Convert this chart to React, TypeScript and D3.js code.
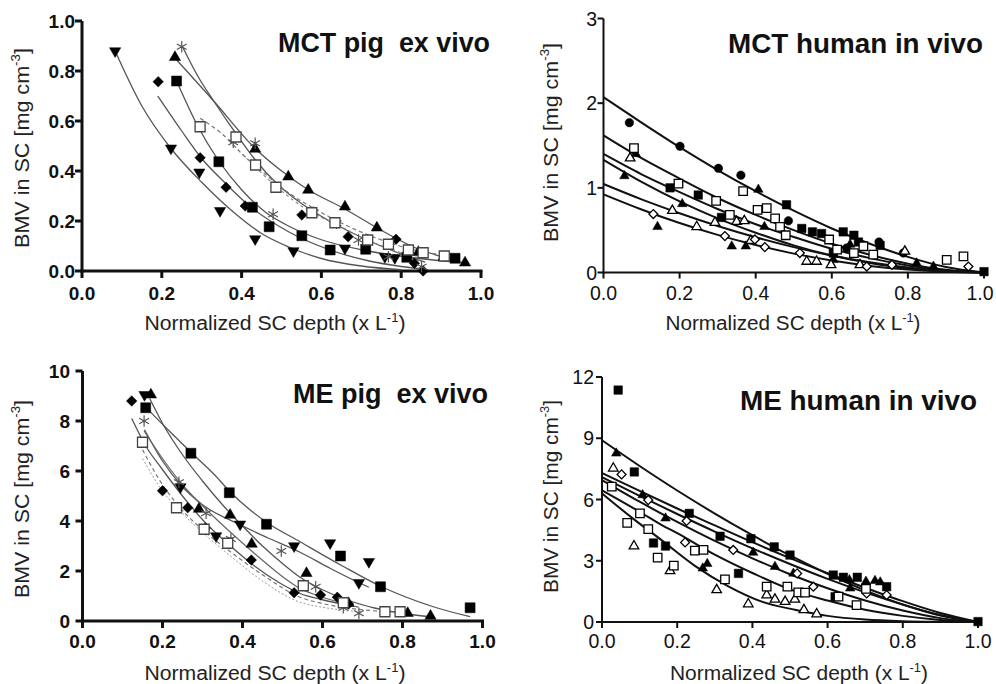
import React from 'react';
import * as d3 from 'd3';

type Pt = [number, number];

// ---------- Panel A: MCT pig ex vivo (x: normalized depth, y: BMV mg/cm3) ----------
const A_down: Pt[] = [[0.083,0.88],[0.223,0.491],[0.294,0.395],[0.346,0.241],[0.434,0.128],[0.53,0.08],[0.659,0.091],[0.759,0.057],[0.784,0.053]];
const A_diamond: Pt[] = [[0.191,0.757],[0.296,0.453],[0.361,0.335],[0.409,0.26],[0.551,0.224],[0.667,0.137],[0.787,0.127],[0.833,0.031],[0.855,0.0]];
const A_square: Pt[] = [[0.237,0.76],[0.343,0.437],[0.427,0.255],[0.469,0.177],[0.551,0.141],[0.622,0.084],[0.711,0.087],[0.814,0.055],[0.935,0.051]];
const A_up: Pt[] = [[0.233,0.855],[0.434,0.488],[0.517,0.377],[0.567,0.324],[0.659,0.257],[0.739,0.173],[0.843,0.075],[0.906,0.055],[0.96,0.033]];
const A_star: Pt[] = [[0.25,0.897],[0.379,0.515],[0.434,0.511],[0.479,0.227],[0.58,0.235],[0.638,0.191],[0.693,0.124],[0.768,0.057],[0.851,0.017]];
const A_open: Pt[] = [[0.296,0.577],[0.386,0.536],[0.435,0.424],[0.486,0.335],[0.576,0.233],[0.634,0.193],[0.716,0.124],[0.768,0.107],[0.818,0.084],[0.855,0.073],[0.908,0.06]];

const A_fitDown: Pt[] = [[0.083,0.88],[0.15,0.66],[0.223,0.49],[0.30,0.355],[0.38,0.235],[0.45,0.15],[0.52,0.095],[0.60,0.05],[0.70,0.02],[0.80,0.005]];
const A_fitDiamond: Pt[] = [[0.19,0.70],[0.25,0.56],[0.30,0.45],[0.36,0.35],[0.42,0.26],[0.52,0.155],[0.62,0.085],[0.72,0.04],[0.80,0.018],[0.86,0.006]];
const A_fitSquare: Pt[] = [[0.237,0.76],[0.29,0.58],[0.343,0.44],[0.40,0.325],[0.46,0.235],[0.52,0.178],[0.60,0.125],[0.70,0.085],[0.82,0.055],[0.94,0.035]];
const A_fitUp: Pt[] = [[0.231,0.855],[0.33,0.68],[0.434,0.49],[0.517,0.38],[0.567,0.325],[0.659,0.248],[0.74,0.172],[0.843,0.088],[0.906,0.055],[0.96,0.03]];
const A_fitStar: Pt[] = [[0.252,0.897],[0.29,0.78],[0.33,0.68],[0.388,0.545],[0.434,0.445],[0.488,0.35],[0.55,0.27],[0.62,0.2],[0.70,0.135],[0.78,0.08],[0.86,0.035]];
const A_fitOpen: Pt[] = [[0.296,0.611],[0.35,0.55],[0.40,0.47],[0.45,0.40],[0.52,0.31],[0.576,0.255],[0.634,0.205],[0.716,0.145],[0.768,0.115],[0.818,0.09],[0.855,0.078],[0.91,0.06]];
const A_fitStar2: Pt[] = [[0.37,0.52],[0.438,0.41],[0.50,0.32],[0.58,0.23],[0.64,0.185],[0.70,0.135],[0.77,0.09],[0.85,0.05]];

// ---------- Panel B: MCT human in vivo ----------
const B_circle: Pt[] = [[0.068,1.77],[0.201,1.49],[0.302,1.23],[0.361,1.15],[0.486,0.61],[0.639,0.29],[0.724,0.36],[0.788,0.23]];
const B_openSq: Pt[] = [[0.08,1.47],[0.197,1.05],[0.296,0.845],[0.332,0.68],[0.367,0.96],[0.405,0.74],[0.429,0.76],[0.451,0.64],[0.464,0.54],[0.479,0.44],[0.593,0.39],[0.614,0.27],[0.658,0.23],[0.683,0.31],[0.709,0.21],[0.902,0.15],[0.946,0.19]];
const B_square: Pt[] = [[0.175,1.0],[0.249,0.915],[0.31,0.65],[0.481,0.80],[0.521,0.52],[0.549,0.48],[0.573,0.46],[0.604,0.23],[0.630,0.48],[0.658,0.44],[0.67,0.36],[0.727,0.32],[1.0,0.01]];
const B_up: Pt[] = [[0.055,1.14],[0.085,1.40],[0.142,0.54],[0.207,0.81],[0.337,0.31],[0.374,0.31],[0.407,0.98],[0.423,0.54],[0.604,0.15],[0.648,0.33],[0.823,0.11],[0.867,0.07]];
const B_openUp: Pt[] = [[0.07,1.35],[0.181,0.73],[0.245,0.54],[0.293,0.59],[0.35,0.6],[0.37,0.61],[0.387,0.376],[0.534,0.13],[0.56,0.13],[0.598,0.09],[0.674,0.09],[0.792,0.25]];
const B_openDiamond: Pt[] = [[0.131,0.69],[0.319,0.43],[0.398,0.39],[0.424,0.30],[0.516,0.23],[0.692,0.07],[0.758,0.09],[0.959,0.07]];

const B_fit1: Pt[] = [[0,2.07],[0.1,1.77],[0.2,1.48],[0.3,1.21],[0.4,0.96],[0.5,0.73],[0.6,0.52],[0.7,0.34],[0.8,0.185],[0.9,0.065],[1,0]];
const B_fit2: Pt[] = [[0,1.62],[0.1,1.35],[0.2,1.11],[0.3,0.88],[0.4,0.68],[0.5,0.50],[0.6,0.34],[0.7,0.21],[0.8,0.105],[0.9,0.032],[1,0]];
const B_fit3: Pt[] = [[0,1.40],[0.1,1.16],[0.2,0.95],[0.3,0.75],[0.4,0.57],[0.5,0.42],[0.6,0.28],[0.7,0.17],[0.8,0.084],[0.9,0.025],[1,0]];
const B_fit4: Pt[] = [[0,1.33],[0.1,1.07],[0.2,0.84],[0.3,0.64],[0.4,0.47],[0.5,0.32],[0.6,0.20],[0.7,0.113],[0.8,0.049],[0.9,0.012],[1,0]];
const B_fit5: Pt[] = [[0,1.045],[0.1,0.864],[0.2,0.70],[0.3,0.55],[0.4,0.417],[0.5,0.30],[0.6,0.20],[0.7,0.12],[0.8,0.058],[0.9,0.017],[1,0]];
const B_fit6: Pt[] = [[0,0.923],[0.1,0.744],[0.2,0.584],[0.3,0.444],[0.4,0.324],[0.5,0.223],[0.6,0.141],[0.7,0.078],[0.8,0.034],[0.9,0.008],[1,0]];

// ---------- Panel C: ME pig ex vivo ----------
const C_diamond: Pt[] = [[0.123,8.8],[0.2,5.21],[0.263,4.53],[0.307,3.72],[0.422,2.44],[0.529,1.13],[0.595,1.04],[0.637,0.95],[0.665,0.68]];
const C_up: Pt[] = [[0.171,9.05],[0.291,4.48],[0.369,4.24],[0.423,3.08],[0.560,1.91],[0.665,0.71],[0.813,0.31],[0.870,0.2]];
const C_down: Pt[] = [[0.155,9.05],[0.245,5.36],[0.334,3.4],[0.394,3.87],[0.529,3.0],[0.619,3.12],[0.691,1.53],[0.716,2.37]];
const C_square: Pt[] = [[0.158,8.53],[0.271,6.71],[0.367,5.13],[0.46,3.87],[0.645,2.6],[0.745,1.37],[0.969,0.53]];
const C_star: Pt[] = [[0.154,8.0],[0.241,5.55],[0.309,4.31],[0.371,3.28],[0.497,2.8],[0.583,1.37],[0.652,0.53],[0.691,0.31]];
const C_open: Pt[] = [[0.150,7.15],[0.235,4.53],[0.304,3.67],[0.363,3.11],[0.552,1.41],[0.652,0.73],[0.756,0.37],[0.794,0.37]];

const C_fitSquare: Pt[] = [[0.158,8.55],[0.22,7.55],[0.271,6.75],[0.33,5.85],[0.37,5.15],[0.46,3.95],[0.544,3.17],[0.65,2.2],[0.744,1.4],[0.877,0.57],[0.969,0.17]];
const C_fitUp: Pt[] = [[0.168,8.9],[0.202,7.85],[0.25,6.65],[0.30,5.6],[0.35,4.65],[0.40,3.8],[0.45,3.0],[0.50,2.3],[0.544,1.75],[0.60,1.25],[0.66,0.85],[0.73,0.52],[0.81,0.28],[0.87,0.17]];
const C_fitDown: Pt[] = [[0.155,7.65],[0.20,6.4],[0.248,5.4],[0.30,4.65],[0.394,3.85],[0.46,3.35],[0.544,2.75],[0.62,2.1],[0.694,1.51],[0.716,1.35]];
const C_fitDiamond: Pt[] = [[0.123,8.1],[0.16,6.95],[0.198,6.1],[0.25,5.0],[0.306,3.95],[0.37,3.0],[0.43,2.2],[0.49,1.55],[0.544,1.1],[0.60,0.85],[0.665,0.62]];
const C_fitStar: Pt[] = [[0.154,7.6],[0.20,6.5],[0.25,5.45],[0.31,4.45],[0.37,3.55],[0.43,2.7],[0.49,1.9],[0.544,1.3],[0.60,0.95],[0.65,0.72],[0.69,0.55]];
const C_fitOpen: Pt[] = [[0.150,6.85],[0.20,5.45],[0.235,4.7],[0.30,3.65],[0.363,2.85],[0.45,1.85],[0.544,0.95],[0.60,0.7],[0.65,0.55],[0.72,0.42],[0.794,0.33]];
const C_fitDotted: Pt[] = [[0.15,6.5],[0.20,5.2],[0.25,4.3],[0.31,3.4],[0.37,2.6],[0.45,1.6],[0.544,0.75],[0.60,0.55],[0.66,0.42],[0.70,0.36]];

// ---------- Panel D: ME human in vivo ----------
const D_square: Pt[] = [[0.043,11.36],[0.086,7.35],[0.137,3.87],[0.169,3.72],[0.232,5.32],[0.314,4.2],[0.363,2.38],[0.396,4.08],[0.458,3.68],[0.5,3.28],[0.615,2.30],[0.62,1.24],[0.642,2.19],[0.679,2.19],[0.757,1.73],[1.0,0.02]];
const D_up: Pt[] = [[0.038,8.26],[0.108,6.22],[0.169,5.08],[0.268,2.63],[0.28,2.85],[0.402,3.4],[0.46,2.71],[0.509,2.38],[0.658,2.06],[0.66,1.65],[0.702,1.98],[0.726,2.02],[0.74,1.95]];
const D_openUp: Pt[] = [[0.03,7.53],[0.085,3.72],[0.181,2.5],[0.305,1.57],[0.389,0.88],[0.438,1.32],[0.46,1.11],[0.487,1.0],[0.513,1.11],[0.537,0.59],[0.571,0.39]];
const D_openDiamond: Pt[] = [[0.052,7.23],[0.123,5.97],[0.221,3.9],[0.225,4.95],[0.349,3.53],[0.519,2.38],[0.562,1.73],[0.704,1.40],[0.757,1.32]];
const D_openSq: Pt[] = [[0.026,6.63],[0.067,4.86],[0.101,5.32],[0.123,4.55],[0.148,3.15],[0.191,2.76],[0.247,3.5],[0.27,3.53],[0.327,2.09],[0.438,1.73],[0.493,1.73],[0.522,1.45],[0.54,1.44],[0.629,1.24],[0.677,0.83],[0.702,1.62]];

const D_fit1: Pt[] = [[0,8.9],[0.1,7.64],[0.2,6.44],[0.3,5.31],[0.4,4.25],[0.5,3.26],[0.6,2.36],[0.7,1.55],[0.8,0.86],[0.9,0.32],[1,0]];
const D_fit2: Pt[] = [[0,7.3],[0.1,6.42],[0.2,5.56],[0.3,4.73],[0.4,3.91],[0.5,3.13],[0.6,2.39],[0.7,1.68],[0.8,1.02],[0.9,0.44],[1,0]];
const D_fit3: Pt[] = [[0,7.1],[0.1,6.18],[0.2,5.29],[0.3,4.43],[0.4,3.61],[0.5,2.84],[0.6,2.11],[0.7,1.45],[0.8,0.85],[0.9,0.34],[1,0]];
const D_fit4: Pt[] = [[0,6.95],[0.1,5.89],[0.2,4.90],[0.3,3.97],[0.4,3.12],[0.5,2.34],[0.6,1.65],[0.7,1.05],[0.8,0.56],[0.9,0.19],[1,0]];
const D_fit5: Pt[] = [[0,6.45],[0.1,5.4],[0.159,4.75],[0.2,4.35],[0.3,3.3],[0.4,2.4],[0.5,1.6],[0.6,1.05],[0.7,0.6],[0.8,0.3],[0.9,0.1],[1,0]];
const D_fit6: Pt[] = [[0,6.3],[0.08,5.1],[0.159,4.0],[0.247,2.75],[0.336,1.75],[0.425,1.0],[0.513,0.6],[0.6,0.3],[0.7,0.12],[0.8,0.04],[0.9,0.01],[1,0]];

// tick values
const X_TICKS = [0, 0.2, 0.4, 0.6, 0.8, 1.0];
const A_YTICKS = [0, 0.2, 0.4, 0.6, 0.8, 1.0];
const B_YTICKS = [0, 1, 2, 3];
const C_YTICKS = [0, 2, 4, 6, 8, 10];
const D_YTICKS = [0, 3, 6, 9, 12];

const FONT = "'Liberation Sans', Arial, Helvetica, sans-serif";

type Kind = 'square' | 'squareOpen' | 'circle' | 'up' | 'upOpen' | 'down' | 'diamond' | 'diamondOpen' | 'star';
interface Series { kind: Kind; pts: Pt[]; color?: string }
interface Curve { pts: Pt[]; dash?: string; color: string; width: number }

interface Cfg {
  x0: number; x1: number; y0: number; y1: number; yMax: number; yTicks: number[];
  yFmt: (v: number) => string; bold: boolean; axisW: number; tickLen: number;
  tickFont: number; yLabRight: number; xLabBase: number; lastXLabShift: number;
  title: string; titleX: number; titleY: number; titleLen: number; titleSize: number;
  xlabX: number; xlabY: number; xlabLen: number;
  ylabX: number; ylabY: number; ylabLen: number;
  msize: number;
}

function symbolPath(kind: Kind, s: number): { d: string; rot: number } {
  switch (kind) {
    case 'square':
    case 'squareOpen':
      return { d: d3.symbol().type(d3.symbolSquare).size(s * s)() as string, rot: 0 };
    case 'circle':
      return { d: d3.symbol().type(d3.symbolCircle).size(Math.PI * (s / 2) * (s / 2))() as string, rot: 0 };
    case 'up':
    case 'upOpen':
      return { d: d3.symbol().type(d3.symbolTriangle).size(0.55 * s * s)() as string, rot: 0 };
    case 'down':
      return { d: d3.symbol().type(d3.symbolTriangle).size(0.55 * s * s)() as string, rot: 180 };
    case 'diamond':
    case 'diamondOpen':
      return { d: d3.symbol().type(d3.symbolSquare).size(0.55 * s * s)() as string, rot: 45 };
    case 'star':
      return { d: d3.symbol().type(d3.symbolAsterisk).size(0.9 * s * s)() as string, rot: 0 };
  }
}

function Panel({ cfg, series, curves }: { cfg: Cfg; series: Series[]; curves: Curve[] }) {
  const x = d3.scaleLinear().domain([0, 1]).range([cfg.x0, cfg.x1]);
  const y = d3.scaleLinear().domain([0, cfg.yMax]).range([cfg.y0, cfg.y1]);
  const line = d3.line<Pt>().x(d => x(d[0])).y(d => y(d[1])).curve(d3.curveMonotoneX);
  const fw = cfg.bold ? 'bold' : 'normal';
  return (
    <g fontFamily={FONT}>
      {/* axes */}
      <line x1={cfg.x0} x2={cfg.x0} y1={cfg.y0 + cfg.axisW / 2} y2={cfg.y1} stroke="#111" strokeWidth={cfg.axisW} />
      <line x1={cfg.x0 - cfg.axisW / 2} x2={cfg.x1 + cfg.axisW / 2} y1={cfg.y0} y2={cfg.y0} stroke="#111" strokeWidth={cfg.axisW} />
      {X_TICKS.map((t, i) => (
        <g key={'xt' + t}>
          <line x1={x(t)} x2={x(t)} y1={cfg.y0} y2={cfg.y0 + cfg.tickLen} stroke="#111" strokeWidth={cfg.axisW} />
          <text x={x(t) - (i === X_TICKS.length - 1 ? cfg.lastXLabShift : 0)} y={cfg.xLabBase} textAnchor="middle"
            fontSize={cfg.tickFont} fontWeight={fw} fill="#111">{t.toFixed(1)}</text>
        </g>
      ))}
      {cfg.yTicks.map(t => (
        <g key={'yt' + t}>
          <line x1={cfg.x0 - cfg.tickLen} x2={cfg.x0} y1={y(t)} y2={y(t)} stroke="#111" strokeWidth={cfg.axisW} />
          <text x={cfg.yLabRight} y={y(t)} dy="0.36em" textAnchor="end" fontSize={cfg.tickFont} fontWeight={fw} fill="#111">{cfg.yFmt(t)}</text>
        </g>
      ))}
      {/* title */}
      <text x={cfg.titleX} y={cfg.titleY} fontSize={cfg.titleSize} fontWeight="bold" fill="#111"
        textLength={cfg.titleLen} lengthAdjust="spacingAndGlyphs" style={{ whiteSpace: 'pre' }}>{cfg.title}</text>
      {/* x label */}
      <text x={cfg.xlabX} y={cfg.xlabY} textAnchor="middle" fontSize={19.5} fill="#222"
        textLength={cfg.xlabLen} lengthAdjust="spacingAndGlyphs">
        Normalized SC depth (x L<tspan dy={-8} fontSize={12}>-1</tspan><tspan dy={8}>)</tspan>
      </text>
      {/* y label */}
      <text transform={`translate(${cfg.ylabX},${cfg.ylabY}) rotate(-90)`} textAnchor="middle" fontSize={21} fill="#222"
        textLength={cfg.ylabLen} lengthAdjust="spacingAndGlyphs">
        BMV in SC [mg cm<tspan dy={-9} fontSize={13}>-3</tspan><tspan dy={9}>]</tspan>
      </text>
      {/* fit curves */}
      {curves.map((c, i) => (
        <path key={'c' + i} d={line(c.pts) as string} fill="none" stroke={c.color} strokeWidth={c.width} strokeDasharray={c.dash} />
      ))}
      {/* points */}
      {series.map((s, si) => {
        const sp = symbolPath(s.kind, cfg.msize);
        const open = s.kind === 'squareOpen' || s.kind === 'upOpen' || s.kind === 'diamondOpen';
        const col = s.color || '#000';
        return s.pts.map((p, pi) => (
          <path key={'p' + si + '_' + pi} d={sp.d}
            transform={`translate(${x(p[0])},${y(p[1])}) rotate(${sp.rot})`}
            fill={s.kind === 'star' ? 'none' : open ? '#fff' : col}
            stroke={col} strokeWidth={s.kind === 'star' ? 1.2 : open ? 1.3 : 0.5} />
        ));
      })}
    </g>
  );
}

const cfgA: Cfg = {
  x0: 82, x1: 481, y0: 271, y1: 21, yMax: 1, yTicks: A_YTICKS, yFmt: v => v.toFixed(1),
  bold: true, axisW: 3, tickLen: 7, tickFont: 19, yLabRight: 75, xLabBase: 300, lastXLabShift: 0,
  title: 'MCT pig  ex vivo', titleX: 278, titleY: 52, titleLen: 212, titleSize: 27,
  xlabX: 275, xlabY: 330, xlabLen: 261, ylabX: 29, ylabY: 148, ylabLen: 200, msize: 10,
};
const cfgB: Cfg = {
  x0: 603.5, x1: 984, y0: 272.5, y1: 18.5, yMax: 3, yTicks: B_YTICKS, yFmt: v => String(v),
  bold: false, axisW: 2, tickLen: 6, tickFont: 19.5, yLabRight: 597, xLabBase: 300, lastXLabShift: 4,
  title: 'MCT human in vivo', titleX: 728, titleY: 53, titleLen: 255, titleSize: 27,
  xlabX: 793, xlabY: 330, xlabLen: 255, ylabX: 558, ylabY: 142.5, ylabLen: 199, msize: 8.5,
};
const cfgC: Cfg = {
  x0: 82.5, x1: 482.5, y0: 621, y1: 371, yMax: 10, yTicks: C_YTICKS, yFmt: v => String(v),
  bold: true, axisW: 3, tickLen: 7, tickFont: 19, yLabRight: 70, xLabBase: 648, lastXLabShift: 0,
  title: 'ME pig  ex vivo', titleX: 293, titleY: 403, titleLen: 195, titleSize: 27,
  xlabX: 275, xlabY: 680, xlabLen: 261, ylabX: 29, ylabY: 499, ylabLen: 198, msize: 10,
};
const cfgD: Cfg = {
  x0: 602, x1: 978, y0: 622, y1: 377, yMax: 12, yTicks: D_YTICKS, yFmt: v => String(v),
  bold: false, axisW: 2, tickLen: 6, tickFont: 19.5, yLabRight: 594, xLabBase: 648, lastXLabShift: 0,
  title: 'ME human in vivo', titleX: 740, titleY: 410, titleLen: 237, titleSize: 27,
  xlabX: 799, xlabY: 680, xlabLen: 258, ylabX: 558, ylabY: 496.5, ylabLen: 193, msize: 8.5,
};

const G = '#555';
const seriesA: Series[] = [
  { kind: 'down', pts: A_down }, { kind: 'diamond', pts: A_diamond }, { kind: 'square', pts: A_square },
  { kind: 'up', pts: A_up }, { kind: 'star', pts: A_star, color: '#555' }, { kind: 'squareOpen', pts: A_open, color: '#444' },
];
const curvesA: Curve[] = [
  { pts: A_fitDown, color: G, width: 1.3 }, { pts: A_fitDiamond, color: G, width: 1.3 },
  { pts: A_fitSquare, color: G, width: 1.3 }, { pts: A_fitUp, color: G, width: 1.3 },
  { pts: A_fitStar, color: G, width: 1.3 }, { pts: A_fitOpen, color: '#777', width: 1.2, dash: '4 3' },
  { pts: A_fitStar2, color: '#888', width: 1.1, dash: '3 3' },
];
const seriesB: Series[] = [
  { kind: 'circle', pts: B_circle }, { kind: 'square', pts: B_square }, { kind: 'up', pts: B_up },
  { kind: 'squareOpen', pts: B_openSq }, { kind: 'upOpen', pts: B_openUp }, { kind: 'diamondOpen', pts: B_openDiamond },
];
const curvesB: Curve[] = [B_fit1, B_fit2, B_fit3, B_fit4, B_fit5, B_fit6].map(p => ({ pts: p, color: '#111', width: 2 }));
const seriesC: Series[] = [
  { kind: 'diamond', pts: C_diamond }, { kind: 'up', pts: C_up }, { kind: 'down', pts: C_down },
  { kind: 'square', pts: C_square }, { kind: 'star', pts: C_star, color: '#555' }, { kind: 'squareOpen', pts: C_open, color: '#444' },
];
const curvesC: Curve[] = [
  { pts: C_fitSquare, color: G, width: 1.3 }, { pts: C_fitUp, color: G, width: 1.3 },
  { pts: C_fitDown, color: G, width: 1.3 }, { pts: C_fitDiamond, color: G, width: 1.3 },
  { pts: C_fitStar, color: '#666', width: 1.2 }, { pts: C_fitOpen, color: '#777', width: 1.2, dash: '4 3' },
  { pts: C_fitDotted, color: '#999', width: 1.0, dash: '2 2' },
];
const seriesD: Series[] = [
  { kind: 'square', pts: D_square }, { kind: 'up', pts: D_up }, { kind: 'upOpen', pts: D_openUp },
  { kind: 'diamondOpen', pts: D_openDiamond }, { kind: 'squareOpen', pts: D_openSq },
];
const curvesD: Curve[] = [D_fit1, D_fit2, D_fit3, D_fit4, D_fit5, D_fit6].map(p => ({ pts: p, color: '#111', width: 2 }));

export default function App() {
  return (
    <svg width={996} height={684} viewBox="0 0 996 684"
      style={{ position: 'absolute', left: 0, top: 0, background: '#fff' }}>
      <rect width={996} height={684} fill="#fff" />
      <Panel cfg={cfgA} series={seriesA} curves={curvesA} />
      <Panel cfg={cfgB} series={seriesB} curves={curvesB} />
      <Panel cfg={cfgC} series={seriesC} curves={curvesC} />
      <Panel cfg={cfgD} series={seriesD} curves={curvesD} />
    </svg>
  );
}
